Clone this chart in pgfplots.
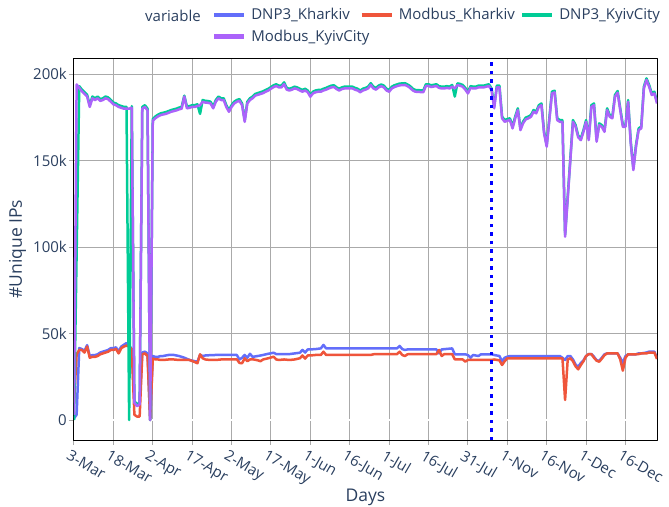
\documentclass[border=0pt]{standalone}
\usepackage{pgfplots}
\pgfplotsset{compat=1.18}
\usepackage{fontspec}
\setmainfont{Open Sans}
\definecolor{txt}{HTML}{2A3F5F}
\definecolor{cblue}{HTML}{636EFA}
\definecolor{cred}{HTML}{EF553B}
\definecolor{cgreen}{HTML}{00CC96}
\definecolor{cpurple}{HTML}{AB63FA}
\definecolor{gridc}{RGB}{170,170,170}
\definecolor{dotblue}{RGB}{0,0,255}
\begin{document}
\begin{tikzpicture}
\begin{axis}[
 name=ax,
 scale only axis, width=583bp, height=381.5bp,
 xmin=0, xmax=222, ymin=-11.56, ymax=209,
 xtick={0,15,...,210},
 xticklabels={3-Mar,18-Mar,2-Apr,17-Apr,2-May,17-May,1-Jun,16-Jun,1-Jul,16-Jul,31-Jul,1-Nov,16-Nov,1-Dec,16-Dec},
 ytick={0,50,100,150,200},
 yticklabels={0,50k,100k,150k,200k},
 xtick pos=bottom, ytick pos=left,
 tick align=outside, major tick length=5bp,
 tick style={gridc, line width=1bp},
 grid=major, grid style={gridc, line width=1bp},
 axis line style={black, line width=1bp},
 ticklabel style={font=\fontsize{15bp}{18bp}\selectfont, text=txt},
 xticklabel style={rotate=-30, anchor=north west, inner sep=1bp, xshift=-1.5bp, yshift=-4bp},
 yticklabel style={anchor=east, inner sep=2bp},
 xlabel={Days}, ylabel={\#Unique IPs},
 label style={font=\fontsize{17.5bp}{21bp}\selectfont, text=txt},
 xlabel style={at={(axis description cs:0.5,-0.1617)}, anchor=base},
 ylabel style={at={(axis description cs:-0.097,0.5)}, anchor=center},
 legend columns=3,
 legend style={at={(axis description cs:0.236,1.132)}, anchor=north west, draw=none, fill=none,
   font=\fontsize{15bp}{18bp}\selectfont, text=txt, inner sep=0pt, row sep=9bp, column sep=0pt,
   nodes={inner sep=0pt}},
 legend image code/.code={\draw[#1, line width=4.5bp] (0bp,0bp) -- (30bp,0bp);},
 line join=round,
]
\addplot[white, line width=2bp, forget plot] coordinates {(0,0) (222,0)};
% DNP3_Kharkiv
\addplot[cblue, line width=2.5bp] coordinates {
(0,1) (1,3) (2,41.6) (3,41) (4,40) (5,43.3) (6,37) (7,37.5) (8,37.5) (9,38) (10,39) (11,39.5) (12,40) (13,40.5) (14,41.5) (15,41.5) (16,42) (17,39.5) (18,42.5) (19,43.5) (20,44.5) (21,43) (22,41) (23,10) (24,9) (25,10) (26,39) (27,39.5) (28,38.5) (29,0) (30,37) (31,36.5) (32,36.5) (33,37) (34,37) (36,37.6) (38,37.6) (40,37) (42,36) (44,34.7) (46,34) (47,33.7) (48,37.6) (49,37) (50,37.3) (52,37.5) (54,37.6) (56,37.6) (58,37.6) (60,37.6) (62,37.6) (63,35) (64,36) (65,37.6) (66,36) (67,38.3) (68,36.5) (70,37) (72,37.6) (74,38.3) (76,38.9) (77,38.1) (78,38.1) (80,38.1) (82,38.1) (83,38.3) (84,38.5) (86,38.9) (87,40.5) (88,39) (89,40.8) (90,40.8) (92,41) (94,41.4) (95,43.4) (96,41.4) (100,41.4) (105,41.4) (110,41.4) (115,41.4) (120,41.4) (123,41.4) (124,42.8) (125,41) (126,40.5) (127,40.8) (130,40.8) (135,40.8) (138,40.8) (139,38.5) (140,40.8) (144,41.4) (145,38) (146,38) (148,38) (149,38) (150,37.5) (151,36) (152,37.6) (153,37.3) (154,37) (155,38) (156,38) (158,38) (159,38) (160,37.6) (162,37) (163,34) (164,36) (165,36.6) (166,37) (170,37) (175,37) (180,37) (185,37) (186,36) (187,34.7) (188,37) (189,37) (190,35) (191,32) (192,30.8) (193,33) (194,34.5) (195,37) (196,38.1) (197,38.1) (198,36.6) (199,34.5) (200,34.3) (201,36) (202,38) (203,38.5) (207,38.5) (208,36) (209,33) (210,37) (211,38) (214,38) (215,38.5) (216,38.5) (218,39) (219,39.5) (221,39.5) (222,35.7)
};
\addlegendentry{\makebox[113bp][l]{\hspace{5bp}DNP3\_Kharkiv}}
% Modbus_Kharkiv
\addplot[cred, line width=2.5bp] coordinates {
(0,10) (1,38) (2,40.5) (3,40.5) (4,39) (5,42.5) (6,36) (7,36.5) (8,36.5) (9,37) (10,38) (11,38.5) (12,39) (13,39.5) (14,40.5) (15,40.5) (16,41) (17,38.5) (18,41.5) (19,42.5) (20,43) (21,42.5) (22,41) (23,3) (24,2) (25,2) (26,38) (27,38.5) (28,37) (29,0) (30,35.5) (31,35) (32,35) (33,34.7) (34,34.7) (36,35) (38,35) (40,34.7) (42,34.7) (44,34.7) (46,33.5) (47,32.8) (48,38) (49,35.7) (50,35) (52,34.7) (54,34.7) (56,35) (58,35) (60,35) (62,35.1) (63,33) (64,32.8) (65,35.7) (66,34) (67,35) (68,35.1) (70,34.5) (71,34) (72,35) (74,35.7) (76,36.6) (77,35) (78,34.7) (80,35) (82,34.7) (84,35) (86,35.7) (87,37.3) (88,35.5) (89,37.3) (90,37.3) (92,37.6) (94,37.6) (95,39.5) (96,37.6) (100,37.6) (105,37.6) (110,37.6) (113,37.6) (114,38) (115,38.1) (120,38.1) (123,38.1) (124,39.5) (125,37.6) (126,37) (127,38) (128,38.1) (132,38.1) (137,38.1) (138,38.1) (139,40.5) (140,37) (141,38.1) (144,38.1) (145,35.1) (146,35) (148,35) (149,33.8) (150,34.7) (155,34.7) (159,34.7) (160,35) (162,34.5) (163,31.8) (164,34) (165,35.7) (170,35.7) (175,35.7) (180,35.7) (186,35.7) (187,11.6) (188,35) (189,35.7) (190,34) (191,31) (192,29.3) (193,31.8) (194,34) (195,37) (196,38.1) (197,38.1) (198,36) (199,34.3) (200,33.7) (201,35.5) (202,37.5) (203,38.5) (207,38.5) (208,35) (209,28.5) (210,36) (211,38) (214,38) (215,38.1) (216,38.5) (218,38.5) (219,39) (221,39) (222,35.3)
};
\addlegendentry{\makebox[126bp][l]{\hspace{5bp}Modbus\_Kharkiv}}
% DNP3_KyivCity
\addplot[cgreen, line width=2.5bp] coordinates {
(0,0) (2,193) (3,191) (4,189.5) (5,188) (6,182) (7,187) (8,186) (9,187) (10,185.5) (11,186) (12,187) (13,186.5) (14,185) (15,183.5) (16,183) (17,182) (18,181.5) (19,181) (20,181) (21,0) (22,181.5) (23,11) (24,9) (25,10) (26,181) (27,182) (28,180) (29,0) (30,174) (31,175.5) (32,176.5) (33,177.3) (35,178) (37,179.2) (39,180) (40,180.6) (41,181) (42,187.5) (43,181.2) (44,181.5) (45,182) (46,182) (47,182.5) (48,177) (49,185) (50,184.5) (51,184.4) (52,184) (53,181.2) (54,185) (55,187) (56,186) (57,186) (58,182) (59,179.2) (60,182) (61,184) (62,185) (63,185.5) (64,183) (65,173.4) (66,184) (67,186) (68,187) (69,188.5) (70,189) (71,189.5) (72,190) (73,190.8) (74,191.5) (75,192.5) (76,193.5) (77,194.1) (78,193.3) (79,193.3) (80,195.2) (81,192) (82,191.5) (83,192) (84,192.7) (85,192.3) (86,191.5) (87,190.8) (88,191.5) (89,190.5) (90,187.9) (91,189.8) (92,190.5) (93,190.8) (94,190.8) (95,191.5) (96,192) (97,192.7) (98,193.3) (99,193.5) (100,192.3) (101,191.5) (102,192.3) (103,192.7) (106,192.7) (107,192) (108,191.5) (109,190.5) (110,191.5) (111,192) (112,192.7) (113,194.7) (114,192.7) (115,192) (116,193.3) (117,194) (118,193.3) (119,191.5) (120,190.8) (121,192.7) (122,193.5) (123,194) (124,194.5) (126,194.7) (127,194) (128,193) (129,191.5) (130,190.8) (133,190.5) (134,194.1) (135,194.1) (136,193.5) (138,194.1) (139,193) (140,192.7) (141,192.7) (142,193) (143,192.7) (144,193.7) (145,187) (146,194.6) (147,194.3) (148,193.7) (149,192) (150,189.8) (151,193) (152,192.7) (153,192.7) (154,193.3) (156,193.3) (157,193.7) (158,194.1) (159,191.7) (160,181.2) (161,193.3) (162,193.3) (163,175.4) (164,173.4) (165,174) (166,174.4) (167,169.6) (168,175.4) (169,180.2) (170,168.6) (171,172.5) (172,174.8) (173,175.4) (174,176.3) (175,179.2) (176,178.3) (177,182) (178,183) (179,166.7) (180,159) (181,174.4) (182,189.8) (183,190.4) (184,174.4) (185,173.4) (186,173.4) (187,107) (190,173.4) (191,170.5) (192,164.4) (193,162.8) (194,167.6) (195,173.4) (196,162.8) (197,182) (198,183) (199,161.9) (200,171.5) (201,170.5) (202,167.6) (203,180.2) (204,176.3) (205,175.4) (206,187.9) (207,190.2) (208,180.2) (209,170.5) (210,170.5) (211,185) (212,161) (213,145.5) (214,159) (215,168.6) (216,169.6) (217,192.7) (218,197.5) (219,193.7) (220,188.9) (221,189.8) (222,184)
};
\addlegendentry{\makebox[110bp][l]{\hspace{5bp}DNP3\_KyivCity}}
% Modbus_KyivCity
\addplot[cpurple, line width=2.5bp] coordinates {
(0,3) (1,194) (2,192) (3,190) (4,188.5) (5,187) (6,181) (7,186) (8,185) (9,186) (10,184.5) (11,185) (12,186) (13,185.5) (14,184) (15,182.5) (16,182) (17,181) (18,180.5) (19,180) (20,180) (21,180) (22,180.5) (23,10) (24,8) (25,9) (26,180) (27,181) (28,179) (29,0) (30,173) (31,174.5) (32,175.5) (33,176.3) (35,177) (37,178.2) (39,179) (40,179.6) (41,180) (42,187) (43,180.2) (44,180.5) (45,181) (46,181) (47,181.5) (48,182) (49,184) (50,183.5) (51,183.4) (52,183) (53,180.2) (54,184) (55,186) (56,185) (57,185) (58,181) (59,178.2) (60,181) (61,183) (62,184) (63,184.5) (64,182) (65,172.4) (66,183) (67,185) (68,186) (69,187.5) (70,188) (71,188.5) (72,189) (73,189.8) (74,190.5) (75,191.5) (76,192.5) (77,193.1) (78,192.3) (79,192.3) (80,194.2) (81,191) (82,190.5) (83,191) (84,191.7) (85,191.3) (86,190.5) (87,189.8) (88,190.5) (89,189.5) (90,186.9) (91,188.8) (92,189.5) (93,189.8) (94,189.8) (95,190.5) (96,191) (97,191.7) (98,192.3) (99,192.5) (100,191.3) (101,190.5) (102,191.3) (103,191.7) (106,191.7) (107,191) (108,190.5) (109,189.5) (110,190.5) (111,191) (112,191.7) (113,193.7) (114,191.7) (115,191) (116,192.3) (117,193) (118,192.3) (119,190.5) (120,189.8) (121,191.7) (122,192.5) (123,193) (124,193.5) (126,193.7) (127,193) (128,192) (129,190.5) (130,189.8) (133,189.5) (134,193.1) (135,193.1) (136,192.5) (138,193.1) (139,192) (140,191.7) (141,191.7) (142,192) (143,191.7) (144,192.7) (145,191.7) (146,193.6) (147,193.3) (148,192.7) (149,191) (150,188.8) (151,192) (152,191.7) (153,191.7) (154,192.3) (156,192.3) (157,192.7) (158,193.1) (159,190.7) (160,180.2) (161,192.3) (162,192.3) (163,174.4) (164,172.4) (165,173) (166,173.4) (167,168.6) (168,174.4) (169,179.2) (170,167.6) (171,171.5) (172,173.8) (173,174.4) (174,175.3) (175,178.2) (176,177.3) (177,181) (178,182) (179,165.7) (180,158) (181,173.4) (182,188.8) (183,189.4) (184,173.4) (185,172.4) (186,172.4) (187,106) (190,172.4) (191,169.5) (192,163.4) (193,161.8) (194,166.6) (195,172.4) (196,161.8) (197,181) (198,182) (199,160.9) (200,170.5) (201,169.5) (202,166.6) (203,179.2) (204,175.3) (205,174.4) (206,186.9) (207,189.2) (208,179.2) (209,169.5) (210,169.5) (211,184) (212,160) (213,144.5) (214,158) (215,167.6) (216,168.6) (217,191.7) (218,196.6) (219,192.7) (220,187.9) (221,188.8) (222,183)
};
\addlegendentry{\makebox[113bp][l]{\hspace{5bp}Modbus\_KyivCity}}
\addplot[dotblue, line width=3.5bp, dash pattern=on 3.5bp off 5bp, forget plot] coordinates {(159,-11.56) (159,209)};
\end{axis}
\node[anchor=west, inner sep=0pt, font=\fontsize{15bp}{18bp}\selectfont, text=txt] at ([xshift=71bp,yshift=42.5bp]ax.north west) {variable};
\pgfresetboundingbox
\path ([xshift=-74bp,yshift=-67bp]ax.south west) rectangle ([xshift=12bp,yshift=58.5bp]ax.north east);
\end{tikzpicture}
\end{document}
